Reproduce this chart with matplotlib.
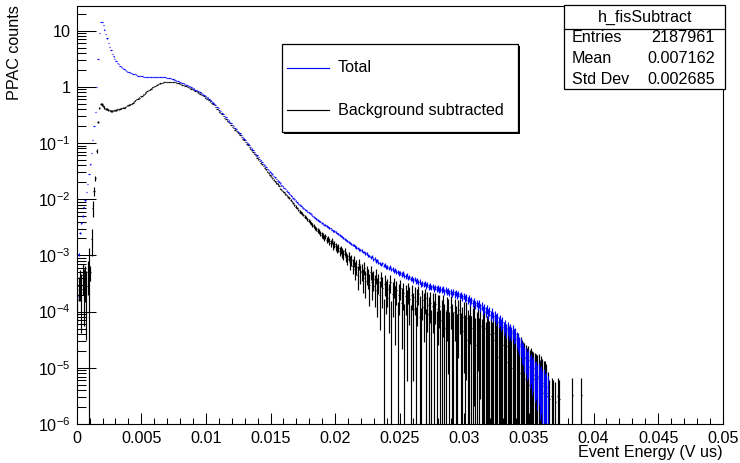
import numpy as np
import matplotlib
matplotlib.use("Agg")
import matplotlib.pyplot as plt
from matplotlib.patches import Rectangle
from matplotlib.lines import Line2D
from matplotlib.ticker import FixedLocator, FixedFormatter, LogLocator, MultipleLocator, NullFormatter

plt.rcParams['font.family'] = ['Liberation Sans', 'DejaVu Sans']
plt.rcParams['mathtext.fontset'] = 'custom'
plt.rcParams['mathtext.rm'] = 'Liberation Sans'
plt.rcParams['mathtext.it'] = 'Liberation Sans:italic'
plt.rcParams['mathtext.bf'] = 'Liberation Sans:bold'

# ---- histogram binning ----
BIN_WIDTH = 1e-4
N_BINS = 500
X_MIN, X_MAX = 0.0, 0.05
Y_MIN, Y_MAX = 1e-6, 28.0

# log10 of bin contents, one entry per bin starting at x = 0
total_log = [
    -3.73, -2.98, -2.60, -2.42, -2.30, -2.14, -2.02, -1.87, -1.73, -1.55,
    -1.38, -1.18, -0.95, -0.70, -0.45, 0.00, 0.50, 0.95, 1.15, 1.16,
    1.10, 1.02, 0.94, 0.86, 0.78, 0.71, 0.65, 0.59, 0.54, 0.49,
    0.46, 0.42, 0.40, 0.37, 0.35, 0.33, 0.31, 0.30, 0.28, 0.27,
    0.26, 0.25, 0.24, 0.23, 0.22, 0.22, 0.21, 0.20, 0.20, 0.19,
    0.19, 0.18, 0.18, 0.18, 0.17, 0.17, 0.17, 0.17, 0.17, 0.17,
    0.17, 0.17, 0.17, 0.18, 0.18, 0.18, 0.17, 0.17, 0.17, 0.16,
    0.16, 0.15, 0.15, 0.14, 0.14, 0.13, 0.12, 0.11, 0.10, 0.09,
    0.08, 0.07, 0.06, 0.05, 0.04, 0.03, 0.02, 0.01, -0.01, -0.02,
    -0.03, -0.05, -0.06, -0.07, -0.08, -0.09, -0.11, -0.12, -0.14, -0.16,
    -0.18, -0.19, -0.21, -0.23, -0.25, -0.28, -0.30, -0.33, -0.36, -0.38,
    -0.41, -0.43, -0.46, -0.49, -0.52, -0.54, -0.57, -0.60, -0.62, -0.65,
    -0.68, -0.70, -0.73, -0.75, -0.78, -0.80, -0.83, -0.86, -0.89, -0.92,
    -0.95, -0.98, -1.01, -1.04, -1.07, -1.10, -1.13, -1.16, -1.19, -1.22,
    -1.25, -1.28, -1.31, -1.34, -1.37, -1.40, -1.43, -1.46, -1.48, -1.51,
    -1.54, -1.56, -1.59, -1.61, -1.64, -1.67, -1.69, -1.72, -1.75, -1.77,
    -1.80, -1.82, -1.85, -1.88, -1.90, -1.93, -1.95, -1.98, -2.00, -2.03,
    -2.05, -2.08, -2.10, -2.12, -2.14, -2.16, -2.18, -2.20, -2.22, -2.23,
    -2.25, -2.27, -2.29, -2.31, -2.33, -2.35, -2.37, -2.39, -2.40, -2.42,
    -2.43, -2.45, -2.46, -2.48, -2.49, -2.51, -2.52, -2.54, -2.56, -2.57,
    -2.59, -2.61, -2.62, -2.64, -2.66, -2.68, -2.69, -2.71, -2.73, -2.75,
    -2.76, -2.78, -2.79, -2.81, -2.82, -2.84, -2.86, -2.87, -2.89, -2.90,
    -2.91, -2.94, -2.94, -2.97, -2.96, -3.00, -3.01, -3.03, -3.02, -3.07,
    -3.06, -3.10, -3.09, -3.13, -3.14, -3.16, -3.14, -3.18, -3.17, -3.21,
    -3.20, -3.23, -3.21, -3.25, -3.24, -3.28, -3.26, -3.30, -3.29, -3.32,
    -3.31, -3.34, -3.32, -3.36, -3.37, -3.35, -3.40, -3.38, -3.42, -3.41,
    -3.44, -3.42, -3.46, -3.45, -3.48, -3.47, -3.51, -3.49, -3.52, -3.50,
    -3.54, -3.52, -3.56, -3.54, -3.57, -3.55, -3.59, -3.57, -3.60, -3.58,
    -3.61, -3.59, -3.62, -3.60, -3.64, -3.61, -3.65, -3.63, -3.67, -3.64,
    -3.68, -3.65, -3.69, -3.67, -3.71, -3.68, -3.72, -3.70, -3.75, -3.72,
    -3.77, -3.74, -3.80, -3.77, -3.82, -3.80, -3.85, -3.81, -3.88, -3.85,
    -3.90, -3.86, -3.93, -3.89, -3.97, -3.94, -4.00, -3.96, -4.03, -3.99,
    -4.06, -4.02, -4.08, -4.07, -4.13, -4.10, -4.18, -4.15, -4.23, -4.19,
    -4.28, -4.24, -4.33, -4.29, -4.36, -4.32, -4.38, -4.35, -4.42, -4.40,
    -4.48, -4.52, -4.58, -4.61, -4.70, -4.71, -4.80, -4.82, -4.90, -4.87,
    -4.98, -4.94, -5.05, -5.01, -5.12, -5.09, -5.18, -5.14, -5.25, -5.21,
    -5.32, -5.27, -5.40, -5.34, -5.45,
]

# None marks a bin whose subtracted content is compatible with zero
subtracted_log = [
    -3.80, -3.55, -3.45, -3.60, -3.35, -3.50, -3.40, -3.55, -3.30, -3.20,
    -3.30, -2.70, -2.15, -1.85, -1.63, -1.14, -0.62, -0.38, -0.31, -0.31,
    -0.34, -0.37, -0.39, -0.40, -0.41, -0.42, -0.43, -0.43, -0.42, -0.42,
    -0.41, -0.40, -0.40, -0.39, -0.38, -0.37, -0.37, -0.36, -0.34, -0.33,
    -0.32, -0.31, -0.30, -0.28, -0.26, -0.24, -0.22, -0.21, -0.19, -0.17,
    -0.16, -0.14, -0.12, -0.10, -0.08, -0.06, -0.05, -0.03, -0.01, 0.00,
    0.02, 0.03, 0.04, 0.05, 0.06, 0.07, 0.07, 0.08, 0.08, 0.09,
    0.09, 0.09, 0.09, 0.09, 0.09, 0.08, 0.08, 0.07, 0.07, 0.06,
    0.05, 0.04, 0.03, 0.02, 0.01, 0.00, -0.01, -0.02, -0.03, -0.04,
    -0.05, -0.07, -0.08, -0.10, -0.11, -0.12, -0.14, -0.15, -0.17, -0.19,
    -0.21, -0.22, -0.24, -0.26, -0.28, -0.31, -0.33, -0.36, -0.39, -0.41,
    -0.44, -0.46, -0.49, -0.52, -0.55, -0.57, -0.60, -0.63, -0.65, -0.68,
    -0.71, -0.73, -0.76, -0.78, -0.81, -0.83, -0.86, -0.89, -0.92, -0.95,
    -0.98, -1.01, -1.04, -1.07, -1.10, -1.13, -1.16, -1.19, -1.22, -1.26,
    -1.29, -1.32, -1.35, -1.38, -1.41, -1.44, -1.47, -1.51, -1.54, -1.57,
    -1.60, -1.63, -1.65, -1.68, -1.71, -1.73, -1.76, -1.81, -1.83, -1.86,
    -1.88, -1.91, -1.93, -1.96, -1.98, -2.01, -2.04, -2.07, -2.10, -2.13,
    -2.16, -2.19, -2.22, -2.24, -2.26, -2.28, -2.31, -2.33, -2.36, -2.38,
    -2.40, -2.43, -2.46, -2.48, -2.51, -2.53, -2.56, -2.58, -2.61, -2.63,
    -2.65, -2.68, -2.66, -2.72, -2.70, -2.75, -2.78, -2.74, -2.82, -2.80,
    -2.84, -2.88, -2.86, -2.92, -2.89, -2.95, -2.98, -2.93, -3.02, -3.06,
    -3.01, -3.12, -3.08, -3.18, -3.10, -3.25, -3.20, -3.35, -3.15, -3.30,
    -3.28, -3.40, -3.22, -3.45, -3.33, -3.38, -3.52, -3.30, -3.48, -3.42,
    -3.55, -3.36, -3.62, -3.47, -3.70, -3.40, -3.58, None, -3.50, -3.65,
    -3.60, -3.75, -3.48, None, -3.68, -3.55, -3.80, -3.62, None, -3.70,
    -3.58, -3.85, -3.66, None, -3.72, -3.90, -3.64, -3.78, None, -3.70,
    -3.95, -3.74, None, -3.82, -3.68, -4.10, None, -3.80, -3.92, -3.76,
    None, -3.88, -4.05, -3.84, None, -3.90, -4.20, -3.86, None, -3.96,
    -3.90, None, -4.15, -3.94, -4.30, None, -3.98, -4.05, None, -3.92,
    -4.25, None, -4.00, -4.40, None, -4.05, -3.98, None, -4.35, -4.10,
    None, -4.12, -4.50, None, -4.08, None, -4.30, -4.18, None, -4.60,
    -4.20, None, -4.25, None, -4.45, -4.30, None, -4.70, -4.35, None,
    -4.40, None, -4.50, -4.38, None, -4.80, None, -4.55, -4.48, None,
    -4.60, None, -4.90, -4.62, None, -4.70, None, -5.00, -4.75, None,
    None, -4.85, None, -5.10, -4.95, None, -5.20, None, -5.05, None,
    -5.30, None, None, -5.20, None, -5.40, None, None, -5.50, None,
    None, -5.45, None, -5.50, -5.50, -5.55, None, -5.50, -5.55, None,
    -5.60, None, -5.50, -5.55, None, None, None, None, None, None,
    None, None, None, -5.48, None, None, None, None, None, None,
    -5.48,
]

# errors of the first subtracted bins (near threshold the background
# sample has its own normalisation)
subtracted_err_head = [
    1.0e-4, 1.3e-4, 2.0e-4, 2.1e-4, 2.5e-4, 2.6e-4, 2.5e-4, 2.5e-4,
    3.0e-4, 7.0e-4, 1.5e-4, 1.0e-3, 2.3e-3, 2.5e-3, 2.5e-3, 6.0e-3,
]

# statistical weight per unit content (total and background samples)
S_TOT = 3.5e-6
S_BKG = 4e-5

x_tick_values = [0.0, 0.005, 0.01, 0.015, 0.02, 0.025, 0.03, 0.035, 0.04, 0.045, 0.05]
x_tick_labels = ["0", "0.005", "0.01", "0.015", "0.02", "0.025", "0.03", "0.035", "0.04", "0.045", "0.05"]
y_tick_values = [1e-6, 1e-5, 1e-4, 1e-3, 1e-2, 1e-1, 1.0, 10.0]
y_tick_labels = [r"$10^{-6}$", r"$10^{-5}$", r"$10^{-4}$", r"$10^{-3}$",
                 r"$10^{-2}$", r"$10^{-1}$", "1", "10"]

stats_title = "h_fisSubtract"
stats_rows = [("Entries", "2187961"), ("Mean", "0.007162"), ("Std Dev", "0.002685")]
legend_entries = [("Total", "#0000ff"), ("Background subtracted", "#000000")]

FS = 11.6
LW = 0.85
W, H = 740, 463


def to_content(logs):
    arr = np.zeros(N_BINS)
    for i, v in enumerate(logs):
        if v is not None:
            arr[i] = 10.0 ** v
    return arr


total = to_content(total_log)
subtracted = to_content(subtracted_log)
centers = X_MIN + (np.arange(N_BINS) + 0.5) * BIN_WIDTH

err_total = np.sqrt(S_TOT * total)
err_sub = np.sqrt(S_TOT * np.maximum(total, subtracted)
                  + S_BKG * np.clip(total - subtracted, 0, None))
err_sub[:len(subtracted_err_head)] = subtracted_err_head


def draw_hist(ax, content, err, color):
    upper = content + err
    show = upper > 0
    lower = np.clip(content - err, 1e-9, None)
    ax.vlines(centers[show], lower[show], upper[show], colors=color, lw=LW)
    has = content > 0
    ax.hlines(content[has], centers[has] - BIN_WIDTH / 2, centers[has] + BIN_WIDTH / 2,
              colors=color, lw=LW)


def fx(px):
    return px / W


def fy(py):
    return 1.0 - py / H


fig = plt.figure(figsize=(W / 100, H / 100), dpi=100)
ax = fig.add_axes([fx(76.7), fy(424), fx(722.7) - fx(76.7), fy(5.5) - fy(424)])

draw_hist(ax, subtracted, err_sub, "#000000")
draw_hist(ax, total, err_total, "#0000ff")

ax.set_xlim(X_MIN, X_MAX)
ax.set_yscale("log")
ax.set_ylim(Y_MIN, Y_MAX)

ax.xaxis.set_major_locator(FixedLocator(x_tick_values))
ax.xaxis.set_major_formatter(FixedFormatter(x_tick_labels))
ax.xaxis.set_minor_locator(MultipleLocator(0.001))
ax.yaxis.set_major_locator(FixedLocator(y_tick_values))
ax.yaxis.set_major_formatter(FixedFormatter(y_tick_labels))
ax.yaxis.set_minor_locator(LogLocator(base=10, subs=np.arange(2, 10), numticks=20))
ax.yaxis.set_minor_formatter(NullFormatter())

ax.tick_params(axis="x", which="major", direction="in", length=8, width=0.75,
               labelsize=FS, pad=5)
ax.tick_params(axis="x", which="minor", direction="in", length=4, width=0.75)
ax.tick_params(axis="y", which="major", direction="in", length=13.5, width=0.75,
               labelsize=FS, pad=4.5)
ax.tick_params(axis="y", which="minor", direction="in", length=6.5, width=0.75)
for sp in ax.spines.values():
    sp.set_linewidth(0.8)

# axis titles
fig.text(fx(723), fy(453), "Event Energy (V us)", ha="right", va="center", fontsize=FS)
fig.text(fx(15), fy(5), "PPAC counts", ha="center", va="top", rotation=90, fontsize=FS)

# legend box with a thin drop shadow
fig.patches.append(Rectangle((fx(284), fy(134)), fx(518) - fx(282), fy(44) - fy(132),
                             transform=fig.transFigure, facecolor="black",
                             edgecolor="none", zorder=4))
fig.patches.append(Rectangle((fx(282), fy(132)), fx(518) - fx(282), fy(44) - fy(132),
                             transform=fig.transFigure, facecolor="white",
                             edgecolor="black", lw=0.9, zorder=5))
for k, (label, color) in enumerate(legend_entries):
    yk = fy(68 + 42 * k)
    fig.lines.append(Line2D([fx(287), fx(329)], [yk, yk], transform=fig.transFigure,
                            color=color, lw=LW, zorder=6))
    fig.text(fx(338), yk, label, ha="left", va="center", fontsize=FS, zorder=6)

# statistics box
fig.patches.append(Rectangle((fx(564), fy(89)), fx(725) - fx(564), fy(5) - fy(89),
                             transform=fig.transFigure, facecolor="white",
                             edgecolor="black", lw=0.9, zorder=5))
fig.lines.append(Line2D([fx(564), fx(725)], [fy(29), fy(29)], transform=fig.transFigure,
                        color="black", lw=0.9, zorder=6))
fig.text(fx(645), fy(17), stats_title, ha="center", va="center", fontsize=FS, zorder=6)
for k, (name, val) in enumerate(stats_rows):
    yk = fy(37 + 21.5 * k)
    fig.text(fx(571.5), yk, name, ha="left", va="center", fontsize=FS, zorder=6)
    fig.text(fx(715), yk, val, ha="right", va="center", fontsize=FS, zorder=6)

fig.savefig("out.png", dpi=100)
